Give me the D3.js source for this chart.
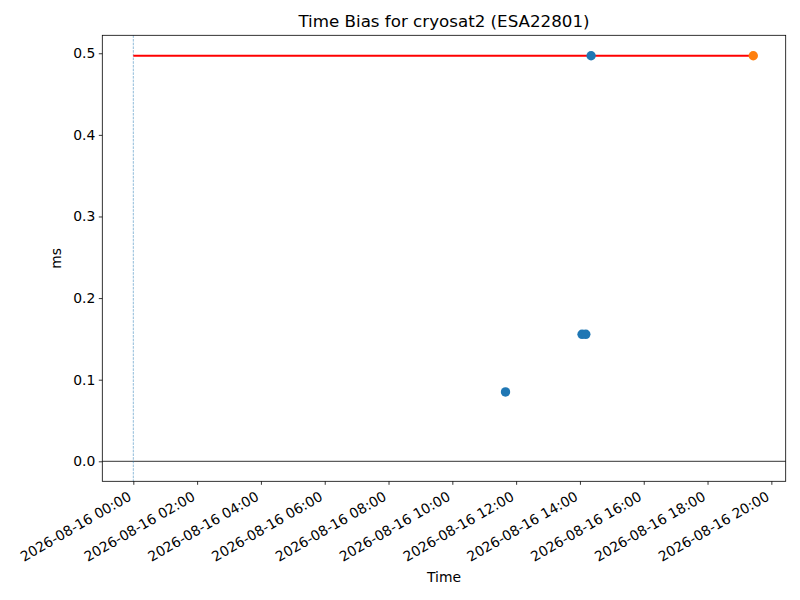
<!DOCTYPE html>
<html><head><meta charset="utf-8">
<script src="https://cdn.jsdelivr.net/npm/d3@7"></script>
<style>body{margin:0;background:#fff}svg{display:block;font-family:"DejaVu Sans",sans-serif}</style>
</head><body>
<script>
const titleText = "Time Bias for cryosat2 (ESA22801)";
const xLabel = "Time";
const yLabel = "ms";
const blueTimes = ["2026-08-16T11:40:00","2026-08-16T14:04:00","2026-08-16T14:11:00","2026-08-16T14:21:00"];
const blueValues = [0.085, 0.1556, 0.1556, 0.497];
const orangeTimes = ["2026-08-16T19:26:00"];
const orangeValues = [0.497];
const redLineTimes = ["2026-08-16T00:00:00","2026-08-16T19:26:00"];
const redLineValues = [0.497, 0.497];
const vlineTime = "2026-08-16T00:00:00";
const yTicks = [0.0, 0.1, 0.2, 0.3, 0.4, 0.5];
const xTickHours = [0,2,4,6,8,10,12,14,16,18,20];
const xDomain = ["2026-08-15T23:01:40","2026-08-16T20:27:00"];
const yDomain = [-0.0245, 0.522];

const W=800,H=600;
const m={l:102.3,r:785.7,t:35.3,b:481.3};
const parse = d3.isoParse;
const svg=d3.select("body").append("svg").attr("width",W).attr("height",H);
const x=d3.scaleTime().domain(xDomain.map(parse)).range([m.l,m.r]);
const y=d3.scaleLinear().domain(yDomain).range([m.b,m.t]);
const fmt=d3.timeFormat("%Y-%m-%d %H:%M");
const base=parse("2026-08-16T00:00:00");
const xTicks=xTickHours.map(h=>d3.timeHour.offset(base,h));

// zero line
svg.append("line").attr("x1",m.l).attr("x2",m.r).attr("y1",y(0)).attr("y2",y(0)).attr("stroke","#000").attr("stroke-width",0.8);
// vline
svg.append("line").attr("x1",x(parse(vlineTime))).attr("x2",x(parse(vlineTime))).attr("y1",m.t).attr("y2",m.b)
  .attr("stroke","#1f77b4").attr("stroke-opacity",0.7).attr("stroke-width",0.7).attr("stroke-dasharray","2.6,1.1");
// red line
const line=d3.line().x(d=>x(parse(d[0]))).y(d=>y(d[1]));
svg.append("path").datum(d3.zip(redLineTimes,redLineValues)).attr("d",line).attr("fill","none").attr("stroke","#ff0000").attr("stroke-width",2);
// points
svg.selectAll("circle.b").data(d3.zip(blueTimes,blueValues)).join("circle").attr("class","b")
  .attr("cx",d=>x(parse(d[0]))).attr("cy",d=>y(d[1])).attr("r",4.7).attr("fill","#1f77b4");
svg.selectAll("circle.o").data(d3.zip(orangeTimes,orangeValues)).join("circle").attr("class","o")
  .attr("cx",d=>x(parse(d[0]))).attr("cy",d=>y(d[1])).attr("r",4.7).attr("fill","#ff7f0e");

// axes
const xa=svg.append("g").attr("transform",`translate(0,${m.b})`)
  .call(d3.axisBottom(x).tickValues(xTicks).tickFormat(fmt).tickSize(3.5).tickSizeOuter(0));
xa.select(".domain").remove();
xa.selectAll("line").attr("stroke","#000").attr("stroke-width",0.8);
xa.selectAll("text").attr("font-size","13.9px").attr("font-family","DejaVu Sans").attr("fill","#000")
  .attr("text-anchor","end").attr("dy",null).attr("y",null)
  .attr("transform","translate(-1.5,18) rotate(-30)");
const ya=svg.append("g").attr("transform",`translate(${m.l},0)`)
  .call(d3.axisLeft(y).tickValues(yTicks).tickFormat(d3.format(".1f")).tickSize(3.5).tickPadding(3.5));
ya.select(".domain").remove();
ya.selectAll("line").attr("stroke","#000").attr("stroke-width",0.8);
ya.selectAll("text").attr("font-size","13.9px").attr("font-family","DejaVu Sans").attr("fill","#000");

// frame
svg.append("rect").attr("x",m.l).attr("y",m.t).attr("width",m.r-m.l).attr("height",m.b-m.t)
  .attr("fill","none").attr("stroke","#000").attr("stroke-width",0.8);

svg.append("text").attr("x",(m.l+m.r)/2).attr("y",27).attr("text-anchor","middle").attr("font-size","16.7px").text(titleText);
svg.append("text").attr("x",(m.l+m.r)/2).attr("y",582).attr("text-anchor","middle").attr("font-size","13.9px").text(xLabel);
svg.append("text").attr("transform",`translate(61,${(m.t+m.b)/2}) rotate(-90)`).attr("text-anchor","middle").attr("font-size","13.9px").text(yLabel);
</script>
</body></html>
